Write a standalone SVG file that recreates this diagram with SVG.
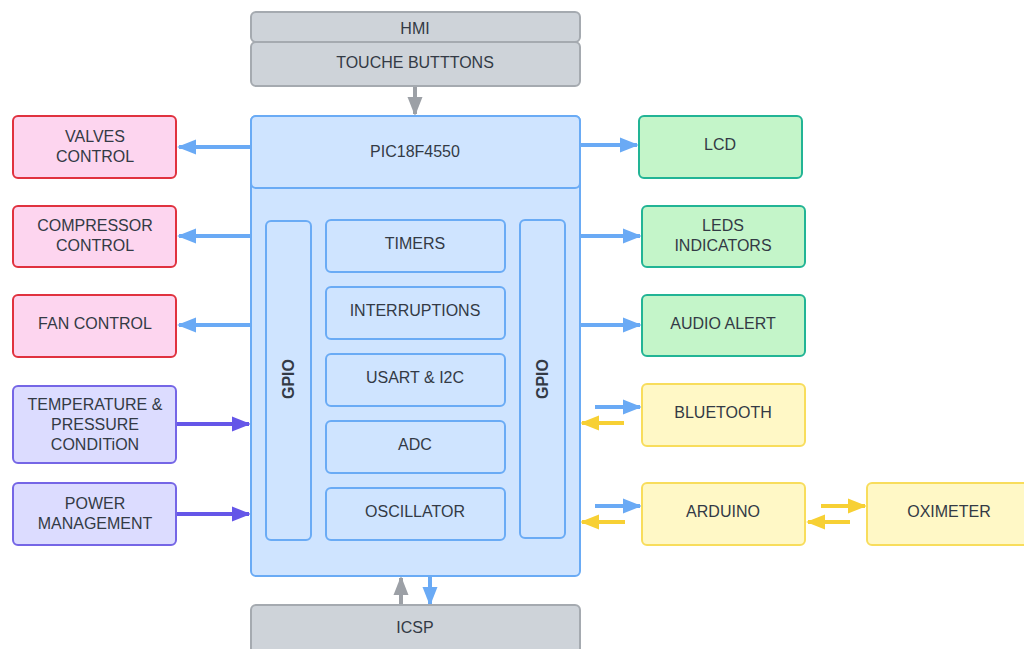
<svg xmlns="http://www.w3.org/2000/svg" width="1024" height="649" viewBox="0 0 1024 649">
<defs>
<style>
text{font-family:"Liberation Sans",Arial,sans-serif;font-size:16px;fill:#333a45;text-anchor:middle;dominant-baseline:central}
.gray{fill:#ced3d9;stroke:#a5aab0;stroke-width:2}
.blue{fill:#cfe4ff;stroke:#6aabf5;stroke-width:2}
.pink{fill:#fdd5ef;stroke:#e0323f;stroke-width:2}
.purple{fill:#dcdcff;stroke:#7566e6;stroke-width:2}
.green{fill:#c4f5c9;stroke:#22b495;stroke-width:2}
.yellow{fill:#fff8c6;stroke:#f8dd5c;stroke-width:2}
.gpio{font-weight:bold;font-size:16px}
.c{fill:none;stroke-width:4}
.cb{stroke:#6aaaf5}
.cp{stroke:#6556e8}
.cy{stroke:#f7d034}
.cg{stroke:#9ca0a6}
</style>
<marker id="ab" viewBox="0 0 10 10" refX="9" refY="5" markerWidth="4.8" markerHeight="3.8" orient="auto" markerUnits="strokeWidth" preserveAspectRatio="none"><path d="M0,0L10,5L0,10z" fill="#6aaaf5"/></marker>
<marker id="ap" viewBox="0 0 10 10" refX="9" refY="5" markerWidth="4.8" markerHeight="3.8" orient="auto" markerUnits="strokeWidth" preserveAspectRatio="none"><path d="M0,0L10,5L0,10z" fill="#6556e8"/></marker>
<marker id="ay" viewBox="0 0 10 10" refX="9" refY="5" markerWidth="4.8" markerHeight="3.8" orient="auto" markerUnits="strokeWidth" preserveAspectRatio="none"><path d="M0,0L10,5L0,10z" fill="#f7d034"/></marker>
<marker id="ag" viewBox="0 0 10 10" refX="9" refY="5" markerWidth="4.8" markerHeight="3.8" orient="auto" markerUnits="strokeWidth" preserveAspectRatio="none"><path d="M0,0L10,5L0,10z" fill="#9ca0a6"/></marker>
</defs>
<rect width="1024" height="649" fill="#ffffff"/>

<g id="connectors">
<line class="c cg" x1="415" y1="87" x2="415" y2="114" marker-end="url(#ag)"/>
<line class="c cb" x1="251" y1="147" x2="179" y2="147" marker-end="url(#ab)"/>
<line class="c cb" x1="251" y1="236" x2="179" y2="236" marker-end="url(#ab)"/>
<line class="c cb" x1="251" y1="325" x2="179" y2="325" marker-end="url(#ab)"/>
<line class="c cp" x1="177" y1="424" x2="249" y2="424" marker-end="url(#ap)"/>
<line class="c cp" x1="177" y1="514" x2="249" y2="514" marker-end="url(#ap)"/>
<line class="c cb" x1="580" y1="145" x2="637" y2="145" marker-end="url(#ab)"/>
<line class="c cb" x1="580" y1="236" x2="640" y2="236" marker-end="url(#ab)"/>
<line class="c cb" x1="580" y1="325" x2="640" y2="325" marker-end="url(#ab)"/>
<line class="c cb" x1="595" y1="407" x2="640" y2="407" marker-end="url(#ab)"/>
<line class="c cy" x1="624" y1="423" x2="582" y2="423" marker-end="url(#ay)"/>
<line class="c cb" x1="595" y1="506" x2="640" y2="506" marker-end="url(#ab)"/>
<line class="c cy" x1="625" y1="522" x2="582" y2="522" marker-end="url(#ay)"/>
<line class="c cy" x1="821" y1="506" x2="865" y2="506" marker-end="url(#ay)"/>
<line class="c cy" x1="850" y1="522" x2="808" y2="522" marker-end="url(#ay)"/>
<line class="c cg" x1="401" y1="605" x2="401" y2="578" marker-end="url(#ag)"/>
<line class="c cb" x1="430" y1="577" x2="430" y2="604" marker-end="url(#ab)"/>
</g>

<g id="hmi"><rect class="gray" x="251" y="12" width="329" height="30" rx="5"/><text x="415" y="28">HMI</text></g>
<g id="touch"><rect class="gray" x="251" y="42" width="329" height="44" rx="5"/><text x="415" y="62">TOUCHE BUTTTONS</text></g>

<g id="pic">
<rect class="blue" x="251" y="116" width="329" height="460" rx="5"/>
<rect class="blue" x="251" y="116" width="329" height="72" rx="5"/>
<text x="415" y="151">PIC18F4550</text>
</g>
<g id="gpio-left"><rect class="blue" x="266" y="221" width="45" height="319" rx="5"/><text class="gpio" transform="translate(288,379) rotate(-90)">GPIO</text></g>
<g id="gpio-right"><rect class="blue" x="520" y="220" width="45" height="318" rx="5"/><text class="gpio" transform="translate(542,379) rotate(-90)">GPIO</text></g>
<g id="timers"><rect class="blue" x="326" y="220" width="179" height="52" rx="5"/><text x="415" y="243">TIMERS</text></g>
<g id="interruptions"><rect class="blue" x="326" y="287" width="179" height="52" rx="5"/><text x="415" y="310">INTERRUPTIONS</text></g>
<g id="usart"><rect class="blue" x="326" y="354" width="179" height="52" rx="5"/><text x="415" y="377">USART &amp; I2C</text></g>
<g id="adc"><rect class="blue" x="326" y="421" width="179" height="52" rx="5"/><text x="415" y="444">ADC</text></g>
<g id="oscillator"><rect class="blue" x="326" y="488" width="179" height="52" rx="5"/><text x="415" y="511">OSCILLATOR</text></g>

<g id="valves"><rect class="pink" x="13" y="116" width="163" height="62" rx="5"/><text x="95" y="136">VALVES</text><text x="95" y="156">CONTROL</text></g>
<g id="compressor"><rect class="pink" x="13" y="206" width="163" height="61" rx="5"/><text x="95" y="225">COMPRESSOR</text><text x="95" y="245">CONTROL</text></g>
<g id="fan"><rect class="pink" x="13" y="295" width="163" height="62" rx="5"/><text x="95" y="323">FAN CONTROL</text></g>
<g id="temperature"><rect class="purple" x="13" y="386" width="163" height="77" rx="5"/><text x="95" y="404">TEMPERATURE &amp;</text><text x="95" y="424">PRESSURE</text><text x="95" y="444">CONDITiON</text></g>
<g id="power"><rect class="purple" x="13" y="483" width="163" height="62" rx="5"/><text x="95" y="503">POWER</text><text x="95" y="523">MANAGEMENT</text></g>

<g id="lcd"><rect class="green" x="639" y="116" width="163" height="62" rx="5"/><text x="720" y="144">LCD</text></g>
<g id="leds"><rect class="green" x="642" y="206" width="163" height="61" rx="5"/><text x="723" y="225">LEDS</text><text x="723" y="245">INDICATORS</text></g>
<g id="audio"><rect class="green" x="642" y="295" width="163" height="61" rx="5"/><text x="723" y="323">AUDIO ALERT</text></g>
<g id="bluetooth"><rect class="yellow" x="642" y="384" width="163" height="62" rx="5"/><text x="723" y="412">BLUETOOTH</text></g>
<g id="arduino"><rect class="yellow" x="642" y="483" width="163" height="62" rx="5"/><text x="723" y="511">ARDUINO</text></g>
<g id="oximeter"><rect class="yellow" x="867" y="483" width="170" height="62" rx="5"/><text x="949" y="511">OXIMETER</text></g>

<g id="icsp"><rect class="gray" x="251" y="605" width="329" height="60" rx="5"/><text x="415" y="627">ICSP</text></g>
</svg>
